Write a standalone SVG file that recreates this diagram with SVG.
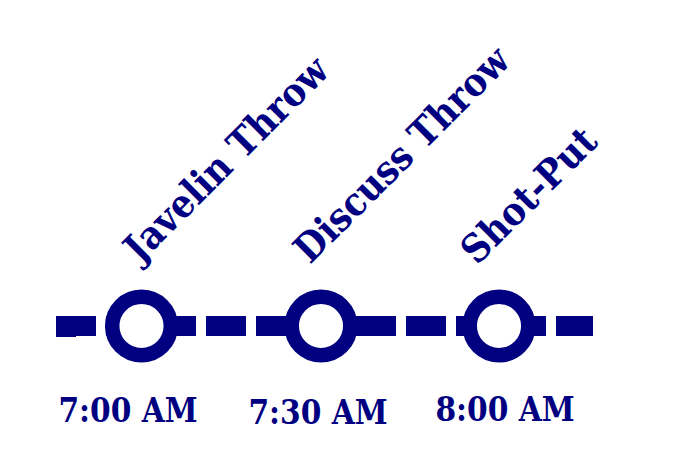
<svg xmlns="http://www.w3.org/2000/svg" width="676" height="452" viewBox="0 0 676 452">
<style>
.ring{fill:#fff;stroke:#000080;stroke-width:14.5}
.t{font-family:"DejaVu Serif Condensed","DejaVu Serif",serif;font-stretch:condensed;font-weight:bold;fill:#000080}
.lb{font-size:39px}
.tm{font-size:33px;text-anchor:middle}
</style>
<rect width="676" height="452" fill="#fff"/>
<g id="connectors">
<line x1="56" y1="326" x2="593" y2="326" stroke="#000080" stroke-width="20" stroke-dasharray="40 10"/>
<rect x="56" y="330" width="20" height="7" fill="#000080"/>
</g>
<g id="node1">
<circle class="ring" cx="141.5" cy="326" r="29.3"/>
<text class="t lb" transform="translate(140,264) rotate(-45)">Javelin Throw</text>
<text class="t tm" x="128" y="422">7:00 AM</text>
</g>
<g id="node2">
<circle class="ring" cx="321" cy="326" r="29.3"/>
<text class="t lb" transform="translate(310,265) rotate(-45)">Discuss Throw</text>
<text class="t tm" x="318" y="424">7:30 AM</text>
</g>
<g id="node3">
<circle class="ring" cx="499" cy="326" r="29.3"/>
<text class="t lb" transform="translate(477,266) rotate(-45)">Shot-Put</text>
<text class="t tm" x="505" y="421">8:00 AM</text>
</g>
</svg>
